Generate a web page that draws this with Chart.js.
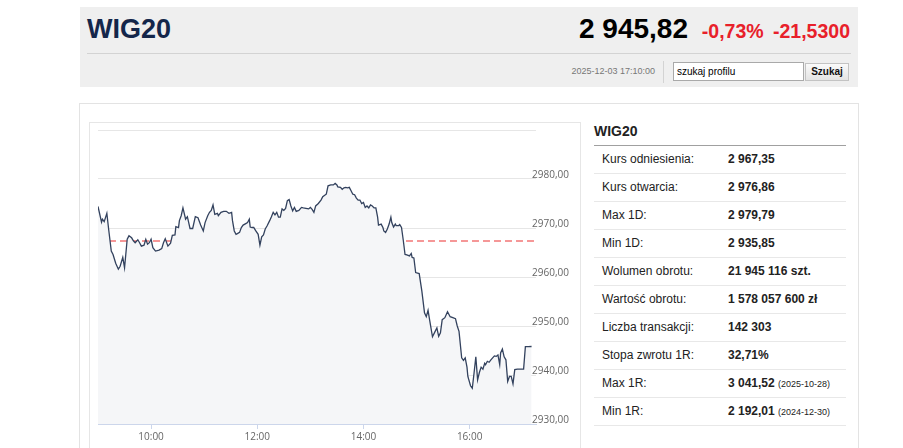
<!DOCTYPE html>
<html lang="pl">
<head>
<meta charset="utf-8">
<title>WIG20</title>
<script src="https://cdn.jsdelivr.net/npm/chart.js@4.4.1/dist/chart.umd.min.js"></script>
<style>
  body { margin: 0; background: #fff; font-family: "Liberation Sans", Arial, sans-serif; width: 903px; height: 448px; overflow: hidden; position: relative; }
  .head { position: absolute; left: 80px; top: 7px; width: 778px; height: 80px; background: #efefef; }
  .title { position: absolute; left: 7px; top: 7px; font-size: 27px; font-weight: bold; color: #14264a; }
  .price { position: absolute; right: 170px; top: 6px; font-size: 28px; font-weight: bold; color: #000; }
  .chg { position: absolute; right: 8px; top: 13px; font-size: 19.5px; font-weight: bold; color: #e8202a; word-spacing: 4px; }
  .sep { position: absolute; left: 7px; right: 7px; top: 46px; border-top: 1px solid #d3d3d3; }
  .date { position: absolute; right: 203px; top: 59px; font-size: 9px; color: #777; }
  .vbar { position: absolute; left: 583px; top: 54px; height: 22px; border-left: 1px solid #d3d3d3; }
  .search { position: absolute; left: 593px; top: 55px; width: 126px; height: 17px; border: 1px solid #a9a9a9; background: #fff; font-size: 10px; line-height: 17px; padding-left: 3px; box-sizing: content-box; }
  .btn { position: absolute; left: 725px; top: 56px; width: 42px; height: 16px; border: 1px solid #c3c3c3; background: linear-gradient(#fafafa, #e3e3e3); font-size: 10px; font-weight: bold; text-align: center; line-height: 16px; color: #111; }
  .panel { position: absolute; left: 79px; top: 103px; width: 778px; height: 400px; border: 1px solid #e3e3e3; }
  .chartbox { position: absolute; left: 89px; top: 122px; width: 490px; height: 400px; border: 1px solid #e6e6e6; }
  .canvaswrap { position: absolute; left: 90px; top: 123px; width: 488px; height: 327px; }
  .stats { position: absolute; left: 594px; top: 119px; width: 252px; }
  .stats h3 { margin: 0; font-size: 14px; font-weight: bold; color: #222; height: 26px; line-height: 24px; border-bottom: 1px solid #a0a0a0; }
  .row { height: 27px; border-bottom: 1px solid #e8e8e8; font-size: 12px; line-height: 27px; color: #222; position: relative; }
  .row .l { position: absolute; left: 8px; }
  .row .v { position: absolute; left: 134px; font-weight: bold; }
  .row .v small { font-size: 9px; font-weight: normal; }
</style>
</head>
<body>
<div class="head">
  <div class="title">WIG20</div>
  <div class="price">2 945,82</div>
  <div class="chg">-0,73% -21,5300</div>
  <div class="sep"></div>
  <div class="date">2025-12-03 17:10:00</div>
  <div class="vbar"></div>
  <div class="search">szukaj profilu</div>
  <div class="btn">Szukaj</div>
</div>
<div class="panel"></div>
<div class="chartbox"></div>
<div class="canvaswrap"><canvas id="intraday"></canvas></div>
<div class="stats" id="stats"><h3>WIG20</h3></div>

<script>
// intraday session 2025-12-03
const times = [
  "09:00","09:04","09:05","09:07","09:10","09:12","09:15","09:17","09:20","09:23",
  "09:25","09:28","09:30","09:33","09:35","09:38","09:40","09:42","09:45","09:47",
  "09:49","09:52","09:54","09:56","09:58","10:00","10:02","10:05","10:09","10:12",
  "10:14","10:16","10:19","10:22","10:24","10:27","10:28","10:31","10:32","10:34",
  "10:36","10:39","10:41","10:44","10:47","10:50","10:53","10:56","10:59","11:01",
  "11:04","11:06","11:08","11:10","11:12","11:15","11:16","11:19","11:22","11:25",
  "11:28","11:31","11:32","11:34","11:36","11:38","11:40","11:42","11:44","11:47",
  "11:49","11:51","11:52","11:54","11:56","11:58","12:01","12:03","12:05","12:07",
  "12:09","12:11","12:14","12:16","12:18","12:20","12:22","12:24","12:26","12:28",
  "12:30","12:32","12:34","12:36","12:38","12:40","12:42","12:44","12:47","12:50",
  "12:52","12:55","12:58","13:00","13:02","13:04","13:06","13:09","13:12","13:14",
  "13:17","13:18","13:20","13:23","13:26","13:28","13:30","13:31","13:34","13:36",
  "13:38","13:40","13:42","13:44","13:46","13:48","13:50","13:52","13:54","13:56",
  "13:58","14:00","14:02","14:04","14:06","14:08","14:10","14:12","14:14","14:16",
  "14:17","14:20","14:22","14:23","14:25","14:27","14:29","14:31","14:32","14:34",
  "14:36","14:37","14:40","14:41","14:43","14:45","14:47","14:49","14:52","14:54",
  "14:55","14:57","14:58","14:59","15:03","15:06","15:09","15:11","15:13","15:15",
  "15:18","15:21","15:23","15:25","15:27","15:29","15:32","15:35","15:38","15:41",
  "15:44","15:46","15:48","15:51","15:53","15:55","15:57","15:58","16:01","16:03",
  "16:05","16:07","16:09","16:11","16:13","16:15","16:17","16:18","16:20","16:22",
  "16:24","16:26","16:28","16:30","16:32","16:34","16:35","16:37","16:39","16:41",
  "16:43","16:45","16:47","16:49","16:51","16:54","16:58","17:01","17:03","17:06",
  "17:10"
];
const prices = [
  2974.4,2971.2,2971.8,2971.3,2973.0,2969.8,2965.3,2964.6,2962.8,2961.6,
  2962.2,2964.0,2961.9,2967.7,2968.4,2968.0,2967.4,2967.0,2967.6,2967.0,
  2966.3,2966.5,2967.7,2966.7,2967.0,2967.7,2966.0,2965.3,2965.5,2965.8,
  2967.0,2967.8,2966.3,2966.9,2968.5,2968.6,2970.3,2970.1,2971.5,2972.5,
  2974.1,2971.8,2972.3,2969.9,2969.9,2972.3,2972.1,2970.6,2969.4,2971.1,
  2972.5,2973.2,2973.6,2974.7,2972.8,2973.0,2972.5,2973.2,2973.4,2973.4,
  2973.0,2973.2,2971.5,2969.4,2968.7,2968.9,2969.1,2970.1,2970.6,2970.9,
  2971.1,2971.8,2970.2,2970.1,2970.1,2969.5,2968.7,2966.5,2968.2,2968.6,
  2969.8,2970.4,2971.5,2972.3,2973.2,2972.7,2973.2,2972.2,2972.2,2973.9,
  2973.6,2974.0,2975.6,2975.8,2974.5,2973.5,2974.2,2973.4,2973.6,2974.2,
  2974.1,2974.0,2973.9,2974.2,2973.8,2973.2,2974.5,2975.0,2975.7,2976.4,
  2976.8,2976.9,2978.6,2978.8,2978.8,2979.1,2978.8,2978.4,2978.3,2977.9,
  2978.2,2978.3,2978.2,2978.3,2977.6,2976.9,2976.8,2976.1,2975.7,2975.7,
  2975.0,2975.2,2974.2,2974.5,2974.1,2974.7,2974.5,2974.1,2974.1,2972.2,
  2970.6,2970.8,2970.1,2969.4,2969.1,2969.8,2970.8,2972.2,2971.1,2970.2,
  2970.8,2970.5,2970.5,2970.7,2970.1,2967.5,2964.6,2964.5,2964.3,2964.8,
  2964.0,2963.9,2962.4,2960.9,2960.7,2957.1,2952.7,2951.9,2953.2,2951.0,
  2947.8,2948.9,2949.6,2947.9,2948.6,2951.3,2951.7,2952.9,2951.9,2951.7,
  2951.5,2950.0,2948.9,2943.5,2943.0,2943.5,2941.6,2939.7,2937.8,2937.3,
  2940.4,2943.7,2939.0,2940.5,2941.6,2941.2,2942.4,2942.1,2942.8,2942.6,
  2943.1,2943.5,2943.9,2943.8,2944.1,2942.1,2944.5,2945.3,2943.7,2943.1,
  2938.7,2939.7,2939.7,2938.2,2941.1,2941.2,2941.2,2941.2,2945.8,2945.8,
  2945.82
];
const refPrice = 2967.35;          // Kurs odniesienia
const sessionStart = "09:00";
const sessionEnd = "17:15";
const xTickTimes = ["10:00", "12:00", "14:00", "16:00"];
const yMin = 2930, yMax = 2990, yStep = 10;

const statLabels = ["Kurs odniesienia:", "Kurs otwarcia:", "Max 1D:", "Min 1D:", "Wolumen obrotu:",
  "Wartość obrotu:", "Liczba transakcji:", "Stopa zwrotu 1R:", "Max 1R:", "Min 1R:"];
const statValues = ["2 967,35", "2 976,86", "2 979,79", "2 935,85", "21 945 116 szt.",
  "1 578 057 600 zł", "142 303", "32,71%", "3 041,52", "2 192,01"];
const statNotes = ["", "", "", "", "", "", "", "", "(2025-10-28)", "(2024-12-30)"];

const stats = document.getElementById("stats");
statLabels.forEach((lab, i) => {
  const row = document.createElement("div");
  row.className = "row";
  row.innerHTML = '<span class="l">' + lab + '</span><span class="v">' + statValues[i] +
    (statNotes[i] ? ' <small>' + statNotes[i] + '</small>' : '') + '</span>';
  stats.appendChild(row);
});

function toMin(t) {
  const p = t.split(":");
  return +p[0] * 60 + +p[1];
}
function fmtMin(m) {
  const h = Math.floor(m / 60), mm = m % 60;
  return (h < 10 ? "0" : "") + h + ":" + (mm < 10 ? "0" : "") + mm;
}

const xMin = toMin(sessionStart), xMax = toMin(sessionEnd);
const pricePoints = times.map((t, i) => ({ x: toMin(t), y: prices[i] }));
const refPoints = [{ x: xMin, y: refPrice }, { x: xMax, y: refPrice }];

const labelFont = { family: "'Open Sans', sans-serif", size: 10 };

new Chart(document.getElementById("intraday"), {
  type: "line",
  data: {
    datasets: [
      {
        data: pricePoints,
        borderColor: "#33425e",
        backgroundColor: "#f5f6f8",
        borderWidth: 1.3,
        pointRadius: 0,
        tension: 0,
        fill: "start"
      },
      {
        data: refPoints,
        borderColor: "rgba(240,80,80,0.78)",
        borderDash: [7, 4],
        borderWidth: 1.3,
        pointRadius: 0,
        fill: false
      }
    ]
  },
  options: {
    responsive: true,
    maintainAspectRatio: false,
    animation: false,
    layout: { padding: { left: 8, top: 7, right: 0, bottom: 0 } },
    plugins: {
      legend: { display: false },
      tooltip: { enabled: false }
    },
    scales: {
      x: {
        type: "linear",
        min: xMin,
        max: xMax,
        afterBuildTicks: s => { s.ticks = xTickTimes.map(t => ({ value: toMin(t) })); },
        afterFit: s => { s.height = 26; },
        ticks: {
          callback: v => fmtMin(v),
          color: "#666666",
          font: labelFont,
          padding: 2,
          maxRotation: 0
        },
        grid: { drawOnChartArea: false, drawTicks: true, tickLength: 5, color: "#ccd6eb" },
        border: { color: "#ccd6eb" }
      },
      y: {
        position: "right",
        min: yMin,
        max: yMax,
        afterFit: s => { s.width = 42; s.paddingTop = 0; s.paddingBottom = 0; },
        ticks: {
          stepSize: yStep,
          callback: v => (v === yMax ? "" : v.toFixed(2).replace(".", ",")),
          color: "#666666",
          font: labelFont,
          mirror: true,
          padding: 33,
          labelOffset: -4
        },
        grid: { color: "#e6e6e6", drawTicks: false },
        border: { display: false }
      }
    }
  }
});
</script>
</body>
</html>
